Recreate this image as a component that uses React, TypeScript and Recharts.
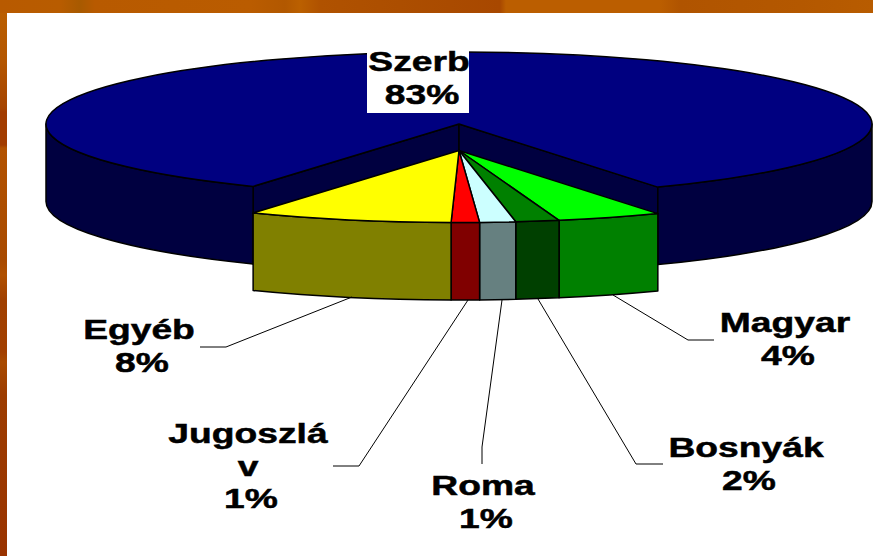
import { PieChart, Pie } from "recharts";

// Slices in drawing order, clockwise from the left end of the big slice
const names = ["Szerb", "Magyar", "Bosnyák", "Roma", "Jugoszláv", "Egyéb"];
const shares = [83.7, 4.1, 1.7, 1.4, 1.1, 8.0];
const percentLabels = ["83%", "4%", "2%", "1%", "1%", "8%"];
const topColors = ["#000080", "#00ff00", "#008000", "#ccffff", "#ff0000", "#ffff00"];
const sideColors = ["#000040", "#008000", "#004000", "#668080", "#800000", "#808000"];

const rows = names.map((name, i) => ({ name, value: shares[i], idx: i }));

const CX = 459;
const CY = 150.5;
const RX = 413;
const TILT = 72 / 413;
const DEPTH = 77.5;
const LIFT = 26.5; // the big slice is pulled away from the others
const RAD = Math.PI / 180;

const pt = (a: number, oy: number) => {
  return [CX + RX * Math.cos(a * RAD), CY + oy - RX * TILT * Math.sin(a * RAD)];
};

// parts of [end, start] that lie on the front half of the ellipse
function frontRuns(start: number, end: number) {
  const runs: number[][] = [];
  for (const k of [-1, 0, 1]) {
    const hi = Math.min(start, 360 * k);
    const lo = Math.max(end, 360 * k - 180);
    if (hi > lo) runs.push([hi, lo]);
  }
  return runs;
}

function Slice3D(props: any) {
  const idx = props.idx ?? props.payload?.idx ?? 0;
  const { startAngle, endAngle } = props;
  const oy = idx === 0 ? -LIFT : 0;
  const ry = RX * TILT;
  const [ax, ay] = [CX, CY + oy];
  const [sx, sy] = pt(startAngle, oy);
  const [ex, ey] = pt(endAngle, oy);
  const large = startAngle - endAngle > 180 ? 1 : 0;
  const line = { stroke: "#000", strokeWidth: 1.5, strokeLinejoin: "round" as const };

  return (
    <g>
      {idx === 0 && (
        <>
          <path d={`M${ax} ${ay}L${sx} ${sy}L${sx} ${sy + DEPTH}L${ax} ${ay + DEPTH}Z`} fill={sideColors[idx]} {...line} />
          <path d={`M${ax} ${ay}L${ex} ${ey}L${ex} ${ey + DEPTH}L${ax} ${ay + DEPTH}Z`} fill={sideColors[idx]} {...line} />
        </>
      )}
      {frontRuns(startAngle, endAngle).map(([a1, a2]) => {
        const [x1, y1] = pt(a1, oy);
        const [x2, y2] = pt(a2, oy);
        return (
          <path
            key={a1}
            d={`M${x1} ${y1}A${RX} ${ry} 0 0 1 ${x2} ${y2}L${x2} ${y2 + DEPTH}A${RX} ${ry} 0 0 0 ${x1} ${y1 + DEPTH}Z`}
            fill={sideColors[idx]}
            {...line}
          />
        );
      })}
      <path
        d={`M${ax} ${ay}L${sx} ${sy}A${RX} ${ry} 0 ${large} 1 ${ex} ${ey}Z`}
        fill={topColors[idx]}
        {...line}
      />
    </g>
  );
}

// label text lines and anchors, with the leader line for each slice
const labelLines: string[][] = [["Szerb"], ["Magyar"], ["Bosnyák"], ["Roma"], ["Jugoszlá", "v"], ["Egyéb"]];
const labelCenters = [419, 785, 746, 483, 248, 139];
const labelBaselines = [71, 332, 457, 495, 443, 339];
const leaders = [
  "",
  "714,340 688,340 613,295",
  "663,464 636,464 538,299",
  "482,464 482,447 502,300",
  "333,466 359,466 468,300",
  "200,347 226,347 352,297",
];

function SliceLabel(props: any) {
  const idx = props.idx ?? props.payload?.idx ?? 0;
  const rowsOfText = [...labelLines[idx], percentLabels[idx]];
  return (
    <g>
      {idx === 0 && <rect x={367} y={48} width={102} height={65} fill="#fff" />}
      {leaders[idx] && <polyline points={leaders[idx]} fill="none" stroke="#000" strokeWidth={1} />}
      {rowsOfText.map((t, i) => (
        <text
          key={i}
          transform={`translate(${labelCenters[idx] + (i === rowsOfText.length - 1 ? 3 : 0)},${labelBaselines[idx] + i * 32.5}) scale(1.33,1)`}
          textAnchor="middle"
          fontFamily="'Liberation Sans', Arial, sans-serif"
          fontWeight="bold"
          fontSize={28}
          fill="#000"
          stroke="#000"
          strokeWidth={0.5}
        >
          {t}
        </text>
      ))}
    </g>
  );
}

export default function App() {
  return (
    <div
      style={{
        position: "absolute",
        left: 0,
        top: 0,
        width: 873,
        height: 556,
        overflow: "hidden",
        background:
          "linear-gradient(180deg, #bb6000 0px, #b45600 60px, #a54400 108px, #a23c00 112px, #a23c00 145px, #b25200 148px, #a84a00 260px, #b05000 275px, #a04000 300px, #a23f00 352px, #a84a00 362px, #9c3c00 395px, #993300 556px)",
      }}
    >
      <div
        style={{
          position: "absolute",
          left: 0,
          top: 0,
          width: 873,
          height: 13,
          background:
            "linear-gradient(90deg, #b85a00 0px, #b85c00 60px, #a85a00 80px, #b85a00 95px, #ba5c00 250px, #b25800 285px, #bb6000 300px, #b05200 320px, #ac4e00 400px, #a84800 500px, #bb5e00 506px, #bb5e00 660px, #b05400 680px, #b45800 800px, #b85c00 873px)",
        }}
      />
      <div style={{ position: "absolute", left: 7, top: 13, width: 866, height: 543, background: "#fff" }} />
      <div style={{ position: "absolute", left: 0, top: 0 }}>
        <PieChart width={873} height={556}>
          <Pie
            data={rows}
            dataKey="value"
            nameKey="name"
            cx={CX}
            cy={CY}
            innerRadius={0}
            outerRadius={RX}
            startAngle={240.1}
            endAngle={-119.9}
            shape={Slice3D}
            label={SliceLabel}
            labelLine={false}
            isAnimationActive={false}
          />
        </PieChart>
      </div>
    </div>
  );
}
